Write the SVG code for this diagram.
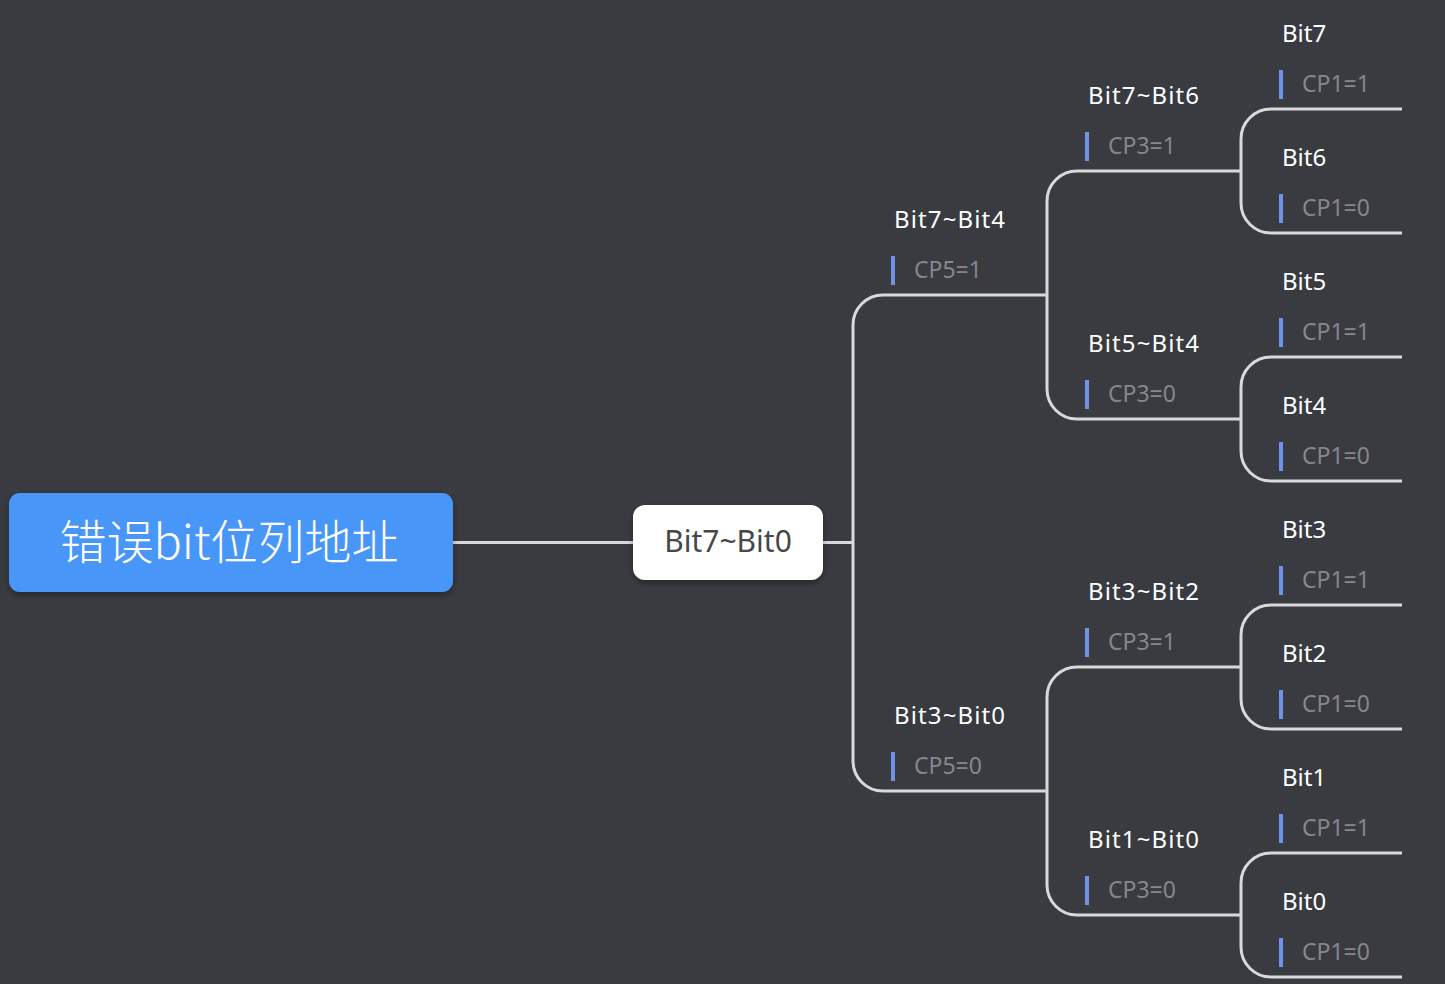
<svg xmlns="http://www.w3.org/2000/svg" width="1445" height="984" viewBox="0 0 1445 984">
<defs>
<filter id="sh" x="-10%" y="-20%" width="120%" height="150%"><feDropShadow dx="0" dy="3" stdDeviation="3" flood-color="#000" flood-opacity="0.35"/></filter>
<style>
.ln{fill:none;stroke:#d9d9d9;stroke-width:3}
.t{font-family:"Noto Sans","Open Sans","Liberation Sans",sans-serif;font-size:24px;fill:#ffffff}
.c{font-family:"Noto Sans","Open Sans","Liberation Sans",sans-serif;font-size:23px;fill:#85878c}
.bar{fill:#6f93e6}
</style>
</defs>
<rect width="1445" height="984" fill="#393b40"/>
<g id="connectors">
<path class="ln" d="M453 542.5H633"/>
<path class="ln" d="M823 542.5H853"/>
<path class="ln" d="M1047 295H883A30 30 0 0 0 853 325V761A30 30 0 0 0 883 791H1047"/>
<path class="ln" d="M1241 171H1077A30 30 0 0 0 1047 201V389A30 30 0 0 0 1077 419H1241"/>
<path class="ln" d="M1241 667H1077A30 30 0 0 0 1047 697V885A30 30 0 0 0 1077 915H1241"/>
<path class="ln" d="M1402 109H1271A30 30 0 0 0 1241 139V203A30 30 0 0 0 1271 233H1402"/>
<path class="ln" d="M1402 357H1271A30 30 0 0 0 1241 387V451A30 30 0 0 0 1271 481H1402"/>
<path class="ln" d="M1402 605H1271A30 30 0 0 0 1241 635V699A30 30 0 0 0 1271 729H1402"/>
<path class="ln" d="M1402 853H1271A30 30 0 0 0 1241 883V947A30 30 0 0 0 1271 977H1402"/>
</g>
<g id="root">
<rect x="9" y="493" width="444" height="99" rx="11" fill="#4a96f9" filter="url(#sh)"/>
<text x="229" y="559" text-anchor="middle" font-family="'Noto Sans CJK SC','Noto Sans',sans-serif" font-weight="300" font-size="47" fill="#ffffff">错误bit位列地址</text>
</g>
<g id="n-b70">
<rect x="633" y="505" width="190" height="75" rx="12" fill="#ffffff" filter="url(#sh)"/>
<text x="728" y="552" text-anchor="middle" font-family="'Noto Sans','Open Sans',sans-serif" font-size="30" fill="#474747">Bit7~Bit0</text>
</g>
<g id="n-b74"><text class="t" x="894" y="228" textLength="111" lengthAdjust="spacing">Bit7~Bit4</text><rect class="bar" x="891" y="256" width="4" height="29"/><text class="c" x="914" y="278">CP5=1</text></g>
<g id="n-b30"><text class="t" x="894" y="724" textLength="111" lengthAdjust="spacing">Bit3~Bit0</text><rect class="bar" x="891" y="752" width="4" height="29"/><text class="c" x="914" y="774">CP5=0</text></g>
<g id="n-b76"><text class="t" x="1088" y="104" textLength="111" lengthAdjust="spacing">Bit7~Bit6</text><rect class="bar" x="1085" y="132" width="4" height="29"/><text class="c" x="1108" y="154">CP3=1</text></g>
<g id="n-b54"><text class="t" x="1088" y="352" textLength="111" lengthAdjust="spacing">Bit5~Bit4</text><rect class="bar" x="1085" y="380" width="4" height="29"/><text class="c" x="1108" y="402">CP3=0</text></g>
<g id="n-b32"><text class="t" x="1088" y="600" textLength="111" lengthAdjust="spacing">Bit3~Bit2</text><rect class="bar" x="1085" y="628" width="4" height="29"/><text class="c" x="1108" y="650">CP3=1</text></g>
<g id="n-b10"><text class="t" x="1088" y="848" textLength="111" lengthAdjust="spacing">Bit1~Bit0</text><rect class="bar" x="1085" y="876" width="4" height="29"/><text class="c" x="1108" y="898">CP3=0</text></g>
<g id="n-b7"><text class="t" x="1282" y="42">Bit7</text><rect class="bar" x="1279" y="70" width="4" height="29"/><text class="c" x="1302" y="92">CP1=1</text></g>
<g id="n-b6"><text class="t" x="1282" y="166">Bit6</text><rect class="bar" x="1279" y="194" width="4" height="29"/><text class="c" x="1302" y="216">CP1=0</text></g>
<g id="n-b5"><text class="t" x="1282" y="290">Bit5</text><rect class="bar" x="1279" y="318" width="4" height="29"/><text class="c" x="1302" y="340">CP1=1</text></g>
<g id="n-b4"><text class="t" x="1282" y="414">Bit4</text><rect class="bar" x="1279" y="442" width="4" height="29"/><text class="c" x="1302" y="464">CP1=0</text></g>
<g id="n-b3"><text class="t" x="1282" y="538">Bit3</text><rect class="bar" x="1279" y="566" width="4" height="29"/><text class="c" x="1302" y="588">CP1=1</text></g>
<g id="n-b2"><text class="t" x="1282" y="662">Bit2</text><rect class="bar" x="1279" y="690" width="4" height="29"/><text class="c" x="1302" y="712">CP1=0</text></g>
<g id="n-b1"><text class="t" x="1282" y="786">Bit1</text><rect class="bar" x="1279" y="814" width="4" height="29"/><text class="c" x="1302" y="836">CP1=1</text></g>
<g id="n-b0"><text class="t" x="1282" y="910">Bit0</text><rect class="bar" x="1279" y="938" width="4" height="29"/><text class="c" x="1302" y="960">CP1=0</text></g>
</svg>
